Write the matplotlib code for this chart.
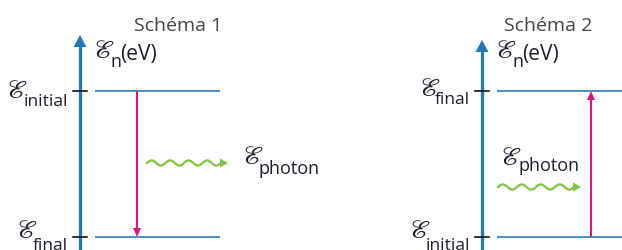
import numpy as np
import matplotlib
matplotlib.use("Agg")
import matplotlib.pyplot as plt
from matplotlib.patches import Polygon

# ---- content ----
titles = ["Schéma 1", "Schéma 2"]
upper_labels = ["initial", "final"]
lower_labels = ["final", "initial"]
upper_energy = [1.0, 1.0]
lower_energy = [0.0, 0.0]
transition_from = [1.0, 0.0]   # emission (down) / absorption (up)
transition_to = [0.0, 1.0]
axis_sub = "n"
axis_unit = "(eV)"
photon_sub = "photon"

# ---- styling ----
W, H = 622, 250
AXIS_BLUE = "#2177bd"
LEVEL_BLUE = "#3b86c4"
MAGENTA = "#d8177f"
GREEN = "#80c341"
TXT = "#1e1e2c"
TITLE_C = "#444444"
SANS = ["Open Sans", "DejaVu Sans"]
SCRIPT = ["STIXGeneral", "DejaVu Sans"]
ES = 19     # script E size
SS = 12.5   # subscript size

fig = plt.figure(figsize=(W / 100, H / 100), dpi=100)
ax = fig.add_axes([0, 0, 1, 1])
ax.axis("off")

Y0, S = 237.0, 146.0
def py(p):
    return (Y0 - p) / S

ax.set_xlim(0, W)
ax.set_ylim(py(H), py(0))

def head(tx, ty, direction, length, width, color):
    if direction == "up":
        pts = [(tx, ty), (tx - width / 2, ty + length), (tx + width / 2, ty + length)]
    elif direction == "down":
        pts = [(tx, ty), (tx - width / 2, ty - length), (tx + width / 2, ty - length)]
    else:
        pts = [(tx, ty), (tx - length, ty - width / 2), (tx - length, ty + width / 2)]
    pts = [(x, py(y)) for x, y in pts]
    ax.add_patch(Polygon(pts, closed=True, color=color, lw=0, zorder=5))

def E(x, y, size=ES):
    ax.text(x, py(y), "ℰ", family=SCRIPT, fontsize=size, color=TXT,
            ha="left", va="baseline")

def sub(x, y, s, ha="left", size=SS):
    ax.text(x, py(y), s, family=SANS, fontsize=size, color=TXT,
            ha=ha, va="baseline", fontweight="medium")

panels = [
    dict(ax_x=80, tip=35, lx0=95, lx1=220, tx=137, title_x=178,
         wave=(147, 221, 163), lab_right=68,
         up_e=(6, 98), up_s=106, lo_e=(16, 238), lo_s=250,
         ph_e=(242, 164), ph_s=(259, 174), axl=(93, 58)),
    dict(ax_x=482, tip=40, lx0=497, lx1=622, tx=591, title_x=548,
         wave=(498, 574, 187), lab_right=470,
         up_e=(419, 96), up_s=104, lo_e=(409, 238), lo_s=250,
         ph_e=(500, 165), ph_s=(518, 171), axl=(495, 58)),
]

for i, p in enumerate(panels):
    # title
    ax.text(p["title_x"], py(31), titles[i], family=SANS, fontsize=14,
            color=TITLE_C, ha="center", va="baseline")
    # vertical energy axis
    ax.plot([p["ax_x"], p["ax_x"]], [py(H + 5), py(p["tip"] + 10)],
            color=AXIS_BLUE, lw=2.3, solid_capstyle="butt", zorder=3)
    head(p["ax_x"], p["tip"], "up", 12, 13, AXIS_BLUE)
    # axis label
    ax0, ay0 = p["axl"]
    E(ax0, ay0, 19)
    sub(ax0 + 17, ay0 + 9, axis_sub, size=13)
    sub(ax0 + 27, ay0 + 2, axis_unit, size=15)
    # levels + ticks
    for e in (upper_energy[i], lower_energy[i]):
        ax.plot([p["lx0"], p["lx1"]], [e, e], color=LEVEL_BLUE, lw=1.3,
                solid_capstyle="butt", zorder=2)
        ax.plot([p["ax_x"] - 7, p["ax_x"] + 7], [e, e], color="#111111",
                lw=1.2, zorder=4)
    # level labels
    E(*p["up_e"])
    sub(p["lab_right"], p["up_s"], upper_labels[i], ha="right")
    E(*p["lo_e"])
    sub(p["lab_right"], p["lo_s"], lower_labels[i], ha="right")
    # transition arrow
    e0, e1 = transition_from[i], transition_to[i]
    tip_px = Y0 - e1 * S
    going_down = e1 < e0
    end_px = tip_px - 8 if going_down else tip_px + 8
    ax.plot([p["tx"], p["tx"]], [e0, py(end_px)], color=MAGENTA, lw=1.5,
            solid_capstyle="butt", zorder=3)
    head(p["tx"], tip_px, "down" if going_down else "up", 9, 8, MAGENTA)
    # photon wave
    x0, x1, yc = p["wave"]
    xs = np.linspace(x0, x1, 300)
    ys = yc - 2.6 * np.sin((xs - x0) / (x1 - x0) * 4 * 2 * np.pi)
    ax.plot(xs, py(ys), color=GREEN, lw=1.6, zorder=3)
    head(x1 + 7, yc, "right", 8, 9, GREEN)
    # photon label
    E(*p["ph_e"])
    sub(p["ph_s"][0], p["ph_s"][1], photon_sub, size=13)

fig.savefig("out.png", dpi=100)
